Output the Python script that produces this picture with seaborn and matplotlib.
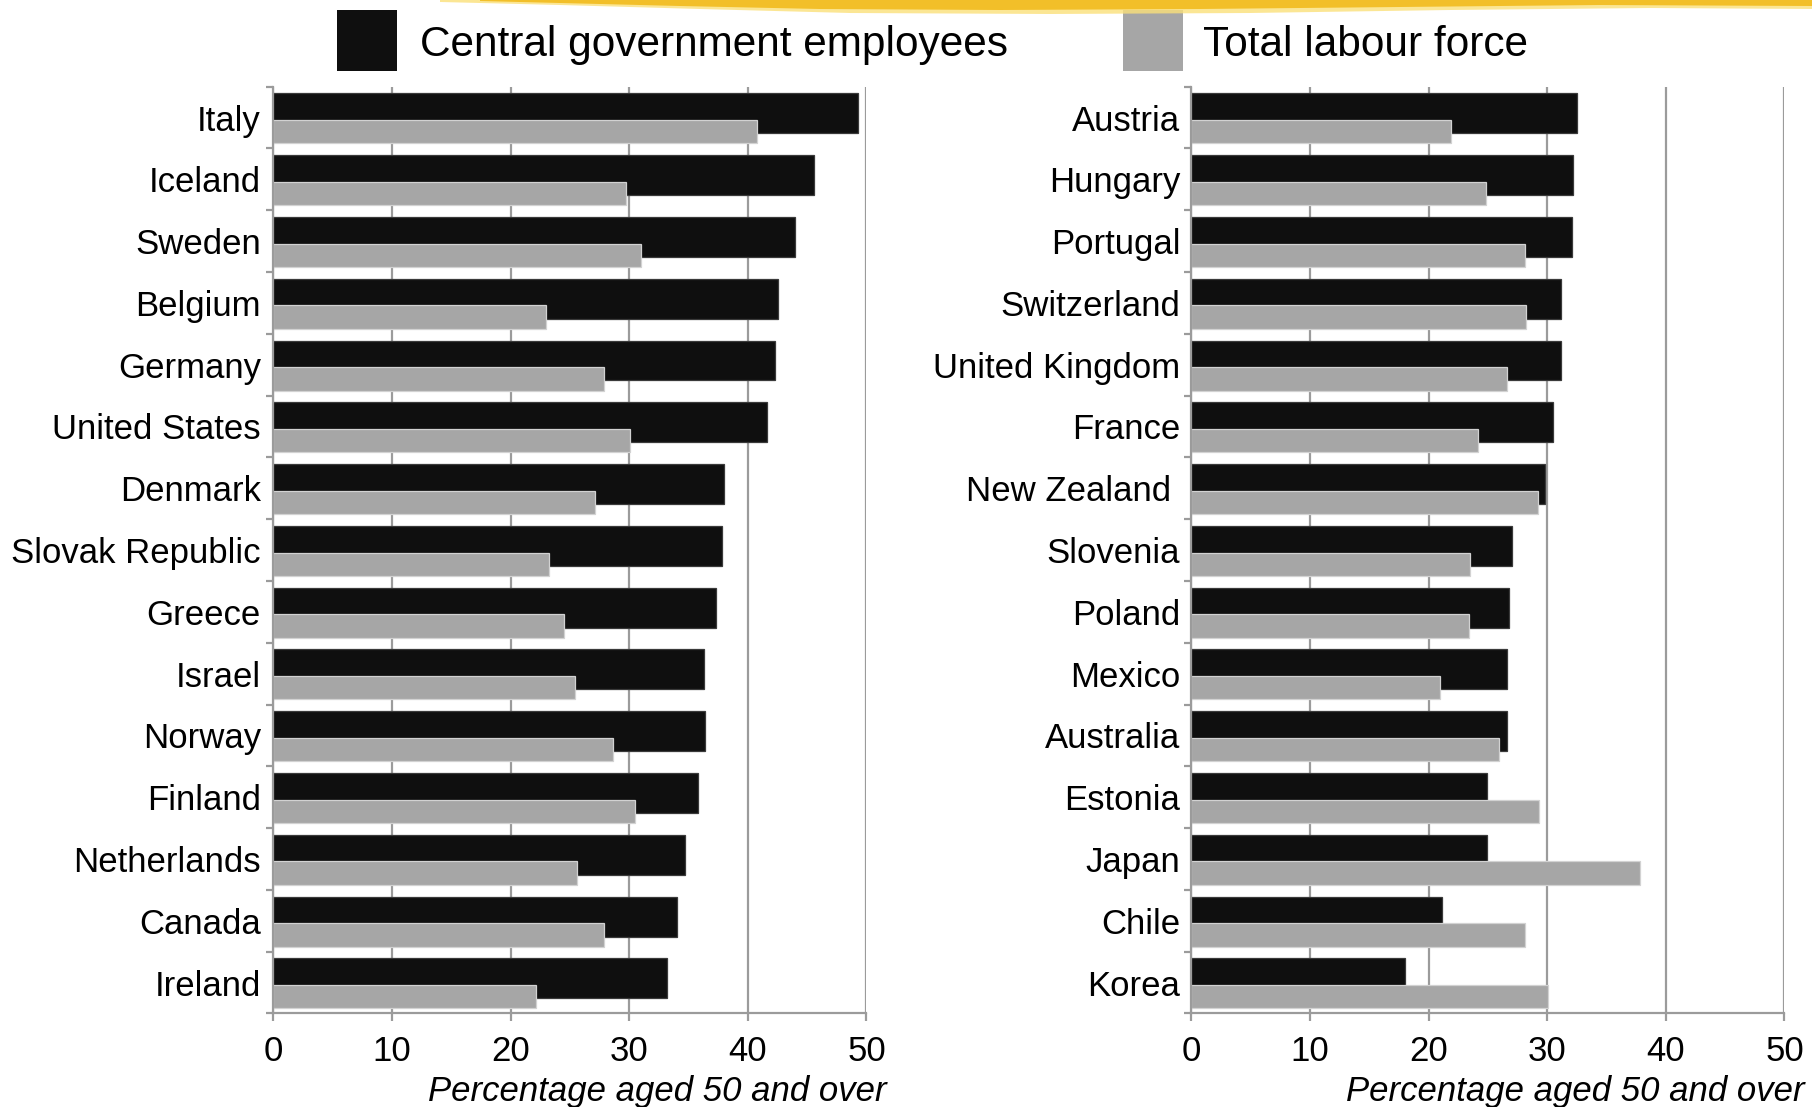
import numpy as np
import pandas as pd
import matplotlib
matplotlib.use("Agg")
import matplotlib.pyplot as plt
from matplotlib.patches import Polygon, Rectangle
from matplotlib.ticker import FixedLocator
import seaborn as sns

# Share of staff aged 50 and over (%), OECD countries
left_countries = ["Italy", "Iceland", "Sweden", "Belgium", "Germany", "United States",
                  "Denmark", "Slovak Republic", "Greece", "Israel", "Norway", "Finland",
                  "Netherlands", "Canada", "Ireland"]
left_central = [49.3, 45.6, 44.0, 42.5, 42.3, 41.6, 38.0, 37.8, 37.3, 36.3, 36.4, 35.8,
                34.7, 34.0, 33.2]
left_labour = [40.8, 29.7, 31.0, 23.0, 27.9, 30.1, 27.1, 23.2, 24.5, 25.4, 28.6, 30.5,
               25.6, 27.9, 22.1]

right_countries = ["Austria", "Hungary", "Portugal", "Switzerland", "United Kingdom",
                   "France", "New Zealand ", "Slovenia", "Poland", "Mexico", "Australia",
                   "Estonia", "Japan", "Chile", "Korea"]
right_central = [32.5, 32.2, 32.1, 31.2, 31.2, 30.5, 29.8, 27.0, 26.8, 26.6, 26.6, 24.9,
                 24.9, 21.1, 18.0]
right_labour = [21.9, 24.8, 28.1, 28.2, 26.6, 24.2, 29.2, 23.5, 23.4, 21.0, 25.9, 29.3,
                37.8, 28.1, 30.1]

x_ticks = [0, 10, 20, 30, 40, 50]
series_names = ["Central government employees", "Total labour force"]
x_title = "Percentage aged 50 and over"

sns.set_theme(style="white")
plt.rcParams["font.family"] = ["Liberation Sans", "DejaVu Sans"]

BLACK = "#0f0f0f"
GREY = "#a6a6a6"
AXIS = "#9b9b9b"

W, H = 1812.0, 1107.0
fig = plt.figure(figsize=(W / 100, H / 100), dpi=100)
ax_l = fig.add_axes([0.1509, 0.0845, 0.3273, 0.8372])
ax_r = fig.add_axes([0.6575, 0.0845, 0.3273, 0.8372])


def draw_panel(ax, countries, central, labour, label_pad):
    df = pd.DataFrame({"country": countries, "central": central, "labour": labour})

    # wide dark bar, nudged upward
    sns.barplot(data=df, x="central", y="country", orient="h", color=BLACK,
                width=0.647, saturation=1, errorbar=None, edgecolor="#3a3a3a",
                linewidth=0.9, ax=ax)
    n_dark = len(ax.patches)
    for p in ax.patches:
        p.set_y(p.get_y() - 0.068)

    # narrower grey bar, overlapping the lower part of the dark one
    sns.barplot(data=df, x="labour", y="country", orient="h", color=GREY,
                width=0.378, saturation=1, errorbar=None, edgecolor="#d2d2d2",
                linewidth=0.9, ax=ax)
    for p in ax.patches[n_dark:]:
        p.set_y(p.get_y() + 0.229)

    ax.set_xlim(0, 50)
    ax.xaxis.set_major_locator(FixedLocator(x_ticks))
    ax.set_xticklabels([str(t) for t in x_ticks])
    ax.grid(axis="x", color=AXIS, linewidth=1.6)
    ax.grid(axis="y", visible=False)
    ax.set_axisbelow(True)

    for s in ["top", "right"]:
        ax.spines[s].set_visible(False)
    for s in ["left", "bottom"]:
        ax.spines[s].set_color(AXIS)
        ax.spines[s].set_linewidth(1.6)

    ax.yaxis.set_minor_locator(FixedLocator(np.arange(-0.5, len(countries), 1.0)))
    ax.tick_params(axis="y", which="major", length=0, pad=label_pad,
                   labelsize=25, labelcolor="black")
    ax.tick_params(axis="y", which="minor", length=5, width=1.6, color=AXIS,
                   direction="out", left=True)
    ax.tick_params(axis="x", which="major", length=6, width=1.6, color=AXIS,
                   direction="out", bottom=True, labelsize=25, pad=9.3,
                   labelcolor="black")

    ax.set_ylabel("")
    ax.set_xlabel(x_title, fontsize=25, style="italic", ha="right", va="center",
                  color="black")
    ax.xaxis.set_label_coords(1.034, -0.084)


draw_panel(ax_l, left_countries, left_central, left_labour, 9)
draw_panel(ax_r, right_countries, right_central, right_labour, 8)

# legend: square swatches with labels, laid out in figure pixels
legend_items = [(series_names[0], BLACK, 337.4, 419.5),
                (series_names[1], GREY, 1123.0, 1203.0)]
for name, col, sx, tx in legend_items:
    fig.add_artist(Rectangle((sx / W, 1 - 70.5 / H), 60.0 / W, 60.5 / H,
                             facecolor=col, edgecolor="none",
                             transform=fig.transFigure))
    fig.text(tx / W, 1 - 55.7 / H, name, fontsize=30.5, color="black",
             ha="left", va="baseline")

# yellow brush stroke along the top edge
pale = [(440, 0), (1812, 0), (1812, 9), (1650, 8), (1450, 10), (1250, 13),
        (1050, 14), (850, 13), (700, 9), (560, 5), (440, 2)]
deep = [(480, 0), (1812, 0), (1812, 6), (1600, 5), (1400, 7), (1200, 9),
        (1000, 10), (820, 9), (680, 6), (560, 3), (480, 1)]
for pts, col, a in [(pale, "#fbe07a", 0.8), (deep, "#f2bb1d", 0.9)]:
    fig.add_artist(Polygon([(x / W, 1 - y / H) for x, y in pts], closed=True,
                           facecolor=col, edgecolor="none", alpha=a,
                           transform=fig.transFigure))

fig.savefig("out.png", dpi=100)
